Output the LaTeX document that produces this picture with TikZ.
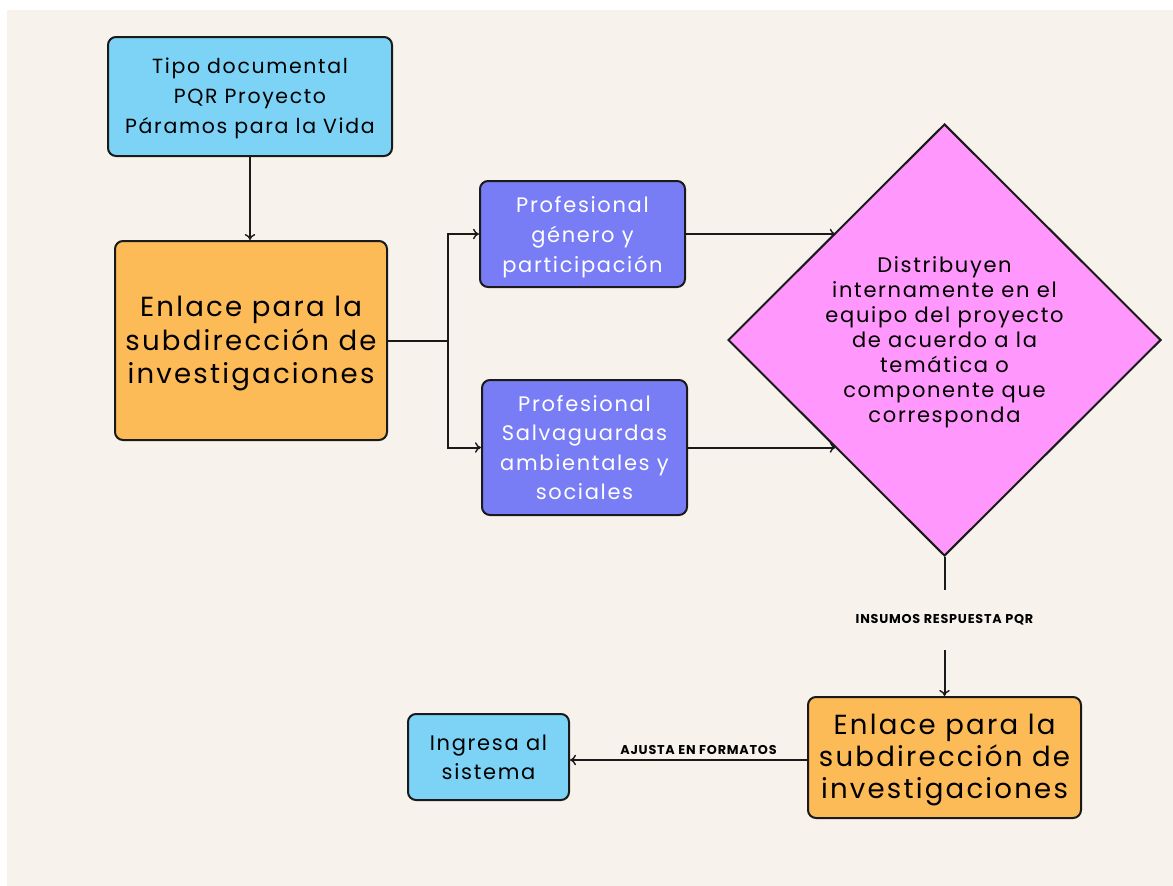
\documentclass[tikz,border=0pt]{standalone}
\usepackage{fontspec}
\usetikzlibrary{arrows.meta,shapes.geometric,calc}
\newfontfamily\pf[LetterSpace=8]{Poppins}
\newfontfamily\pfl[LetterSpace=6]{Poppins}
\newcommand\lowtxt[2][-3pt]{\raisebox{#1}[\height][\depth]{\begin{tabular}{@{}c@{}}#2\end{tabular}}}
\definecolor{bgc}{HTML}{F7F3EC}
\definecolor{skyc}{HTML}{7DD3F5}
\definecolor{orac}{HTML}{FDBB57}
\definecolor{purc}{HTML}{787DF5}
\definecolor{pinkc}{HTML}{FF97FC}
\definecolor{linec}{HTML}{1A1A1A}
\begin{document}
\begin{tikzpicture}[x=1pt,y=-1pt,
  box/.style={draw=linec,line width=2pt,rounded corners=8pt,inner sep=0pt,text=black},
  skybox/.style={box,fill=skyc},
  orabox/.style={box,fill=orac},
  purbox/.style={box,fill=purc,text=white},
  conn/.style={draw=linec,line width=2pt},
  arr/.style={conn,-{To[length=6pt,width=10.5pt,line width=1.4pt]}},
  lbl/.style={font=\pfl\bfseries\fontsize{12.8}{14}\selectfont,text=black,inner sep=0pt}
]
\useasboundingbox (0,0) rectangle (1173,886);
\fill[white] (0,0) rectangle (1173,886);
\fill[bgc] (7,10) rectangle (1173,886);

\node[skybox,minimum width=284pt,minimum height=119pt,font=\pf\fontsize{20.5}{30}\selectfont] (top) at (250,96.5)
  {\lowtxt[-1pt]{Tipo documental\\PQR Proyecto\\Páramos para la Vida}};
\node[orabox,minimum width=272pt,minimum height=199pt,font=\pf\fontsize{27.6}{33.5}\selectfont] (o1) at (251,340.5)
  {\lowtxt{Enlace para la\\subdirección de\\investigaciones}};
\node[purbox,minimum width=205pt,minimum height=106pt,font=\pf\fontsize{21}{30}\selectfont] (p1) at (582.5,234)
  {\lowtxt[-2pt]{Profesional\\género y\\participación}};
\node[purbox,minimum width=205pt,minimum height=135pt,font=\pf\fontsize{21}{29.5}\selectfont] (p2) at (584.5,447.5)
  {\lowtxt[-2pt]{Profesional\\Salvaguardas\\ambientales y\\sociales}};
\node[diamond,draw=linec,line width=2pt,fill=pinkc,aspect=1,inner sep=0pt,minimum width=433pt,minimum height=432pt,font=\pf\fontsize{21}{25}\selectfont] (d) at (944.5,340)
  {\lowtxt[-2pt]{Distribuyen\\internamente en el\\equipo del proyecto\\de acuerdo a la\\temática o\\componente que\\corresponda}};
\node[orabox,minimum width=273pt,minimum height=121pt,font=\pf\fontsize{27.6}{32}\selectfont] (o2) at (944.5,757.5)
  {\lowtxt{Enlace para la\\subdirección de\\investigaciones}};
\node[skybox,minimum width=161pt,minimum height=86pt,font=\pf\fontsize{21}{29}\selectfont] (b2) at (488.5,757)
  {\lowtxt[-2pt]{Ingresa al\\sistema}};

\node[lbl,minimum height=60pt] (l1) at (944.5,620) {INSUMOS RESPUESTA PQR};

\coordinate (j) at (448,340.5);
\coordinate (dnw) at ($(d.west)!0.5!(d.north)$);
\coordinate (dsw) at ($(d.west)!0.5!(d.south)$);
\coordinate (o2w) at ([yshift=-2.5pt]o2.west);

\draw[arr] (top.south) -- (top.south |- o1.north);
\draw[conn] (o1.east) -- (j);
\draw[arr] (j) |- (p1.west);
\draw[arr] (j) |- (p2.west);
\draw[arr] (p1.east) -- (p1.east -| dnw);
\draw[arr] (p2.east) -- (p2.east -| dsw);
\draw[conn] (d.south) -- (l1.north);
\draw[arr] (l1.south) -- (o2.north);
\draw[arr] (o2w) -- node[lbl,above=4pt,xshift=10pt] (l2) {AJUSTA EN FORMATOS} (o2w -| b2.east);
\end{tikzpicture}
\end{document}
